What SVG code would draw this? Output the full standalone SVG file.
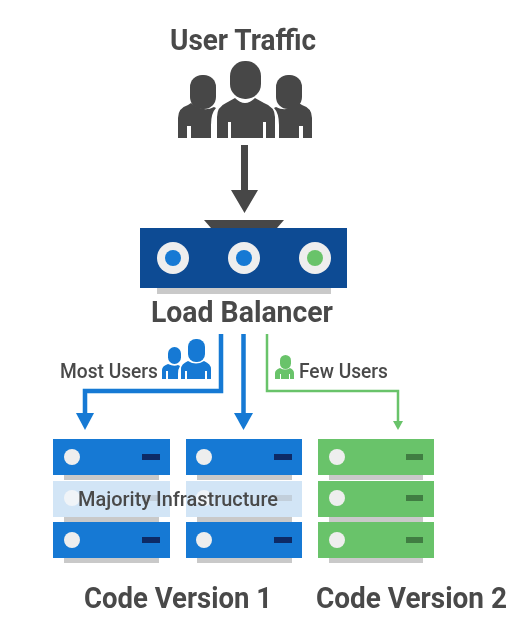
<svg xmlns="http://www.w3.org/2000/svg" width="528" height="637" viewBox="0 0 528 637">
<style>
text{font-family:Roboto,"Noto Sans","Liberation Sans",sans-serif;fill:#4a4a4a;font-weight:500}
.t{font-size:29px;font-weight:700}.s{font-size:19.500px}
.dk{fill:#474747}.blue{fill:#1279d4}.green{fill:#69c36a}.shadow{fill:#c9c9c9}.light{fill:#eeeeee}
.dash-b{fill:#0b2a66}.dash-g{fill:#3f7d42}.pale{fill:#d2e5f6}.pale-c{fill:#f0f4f8}.pale-d{fill:#c2cfdb}
</style>
<defs>
<filter id="soft" x="-5%" y="-5%" width="110%" height="110%"><feGaussianBlur stdDeviation="0.5"/></filter>
</defs>
<rect width="528" height="637" fill="#fff"/>
<g filter="url(#soft)">
<g id="user-traffic">
<text class="t" x="243" y="50" text-anchor="middle" textLength="146" lengthAdjust="spacingAndGlyphs">User Traffic</text>
<g class="dk">
<rect x="190" y="75" width="26" height="34" rx="12"/>
<rect x="276" y="75" width="26" height="34" rx="12"/>
<path d="M178 138V118Q178 108 188 105L191 103Q203 113 214 107L216 108Q211 113 211 125V138H191V126H187V138Z"/>
<path d="M312 138V118Q312 108 302 105L299 103Q287 113 276 107L274 108Q279 113 279 125V138H299V126H303V138Z"/>
<rect x="230" y="61" width="31" height="38" rx="15"/>
<path d="M217 138V117Q217 107 226 103L235 98Q245 108 255 98L264 103Q275 107 275 117V138H266V122H263V138H231V122H228V138Z"/>
</g>
</g>
<g id="load-balancer">
<path class="dk" d="M204 220H284L277 228H211Z"/>
<rect class="shadow" x="157" y="288" width="174" height="6"/>
<rect x="140" y="228" width="207" height="60" fill="#0f4c94"/>
<circle class="light" cx="173" cy="258" r="16"/><circle class="blue" cx="173" cy="258" r="8"/>
<circle class="light" cx="244" cy="258" r="16"/><circle class="blue" cx="244" cy="258" r="8"/>
<circle class="light" cx="315" cy="258" r="16"/><circle class="green" cx="315" cy="258" r="8"/>
<text class="t" x="242" y="322" text-anchor="middle" textLength="182" lengthAdjust="spacingAndGlyphs">Load Balancer</text>
</g>
<g id="connectors">
<path class="dk" d="M241 145H248V190H258L244.500 213L231 190H241Z"/>
<path d="M221 334V391H85V414" fill="none" stroke="#1279d4" stroke-width="4.500"/>
<path class="blue" d="M76 413H94L85 430Z"/>
<path d="M243.500 334V414" fill="none" stroke="#1279d4" stroke-width="4.500"/>
<path class="blue" d="M234 413H253L243.500 430Z"/>
<path d="M267 334V391H398V422" fill="none" stroke="#69c36a" stroke-width="2.500"/>
<path class="green" d="M393 421H403L398 430Z"/>
</g>
<g id="most-users">
<text class="s" x="60" y="378" textLength="98" lengthAdjust="spacingAndGlyphs">Most Users</text>
<g class="blue">
<rect x="168" y="347" width="13" height="17" rx="6.500"/>
<path d="M162 379V370Q162 366 168 364Q174 367 178 365L180 366Q178 369 178 374V379H168V371H166V379Z"/>
<rect x="188" y="339" width="17" height="23" rx="8"/>
<path d="M181 379V369Q181 364 188 361Q196 366 204 361Q211 364 211 369V379H207V371H205V379H187V371H185V379Z"/>
</g>
</g>
<g id="few-users">
<g class="green">
<rect x="280" y="355" width="11" height="14" rx="5.500"/>
<path d="M275 379V373Q275 370 280 368Q285 371 290 368Q294 370 294 373V379H290V374H289V379H281V374H280V379Z"/>
</g>
<text class="s" x="299" y="378" textLength="89" lengthAdjust="spacingAndGlyphs">Few Users</text>
</g>
<g id="server-1-1">
<rect class="shadow" x="64" y="475" width="95" height="5"/>
<rect class="blue" x="53" y="439" width="117" height="36"/>
<circle class="light" cx="72" cy="457" r="8"/><rect class="dash-b" x="142" y="454" width="18" height="6"/>
</g>
<g id="server-1-2">
<rect class="shadow" x="64" y="517" width="95" height="5"/>
<rect class="pale" x="53" y="481" width="117" height="36"/>
<circle class="pale-c" cx="72" cy="498" r="8"/><rect class="pale-d" x="142" y="495" width="18" height="6"/>
</g>
<g id="server-1-3">
<rect class="shadow" x="64" y="558" width="95" height="5"/>
<rect class="blue" x="53" y="522" width="117" height="36"/>
<circle class="light" cx="72" cy="540" r="8"/><rect class="dash-b" x="142" y="537" width="18" height="6"/>
</g>
<g id="server-2-1">
<rect class="shadow" x="197" y="475" width="95" height="5"/>
<rect class="blue" x="186" y="439" width="116" height="36"/>
<circle class="light" cx="204" cy="457" r="8"/><rect class="dash-b" x="274" y="454" width="18" height="6"/>
</g>
<g id="server-2-2">
<rect class="shadow" x="197" y="517" width="95" height="5"/>
<rect class="pale" x="186" y="481" width="116" height="36"/>
<circle class="pale-c" cx="204" cy="498" r="8"/><rect class="pale-d" x="274" y="495" width="18" height="6"/>
</g>
<g id="server-2-3">
<rect class="shadow" x="197" y="558" width="95" height="5"/>
<rect class="blue" x="186" y="522" width="116" height="36"/>
<circle class="light" cx="204" cy="540" r="8"/><rect class="dash-b" x="274" y="537" width="18" height="6"/>
</g>
<g id="server-3-1">
<rect class="shadow" x="329" y="475" width="94" height="5"/>
<rect class="green" x="318" y="439" width="116" height="36"/>
<circle class="light" cx="337" cy="457" r="8"/><rect class="dash-g" x="406" y="454" width="17" height="6"/>
</g>
<g id="server-3-2">
<rect class="shadow" x="329" y="517" width="94" height="5"/>
<rect class="green" x="318" y="481" width="116" height="36"/>
<circle class="light" cx="337" cy="498" r="8"/><rect class="dash-g" x="406" y="495" width="17" height="6"/>
</g>
<g id="server-3-3">
<rect class="shadow" x="329" y="558" width="94" height="5"/>
<rect class="green" x="318" y="522" width="116" height="36"/>
<circle class="light" cx="337" cy="540" r="8"/><rect class="dash-g" x="406" y="537" width="17" height="6"/>
</g>
<text class="s" x="78" y="506" textLength="200" lengthAdjust="spacingAndGlyphs">Majority Infrastructure</text>
<text class="t" x="84" y="608" textLength="188" lengthAdjust="spacingAndGlyphs">Code Version 1</text>
<text class="t" x="316" y="608" textLength="191" lengthAdjust="spacingAndGlyphs">Code Version 2</text>
</g>
</svg>
